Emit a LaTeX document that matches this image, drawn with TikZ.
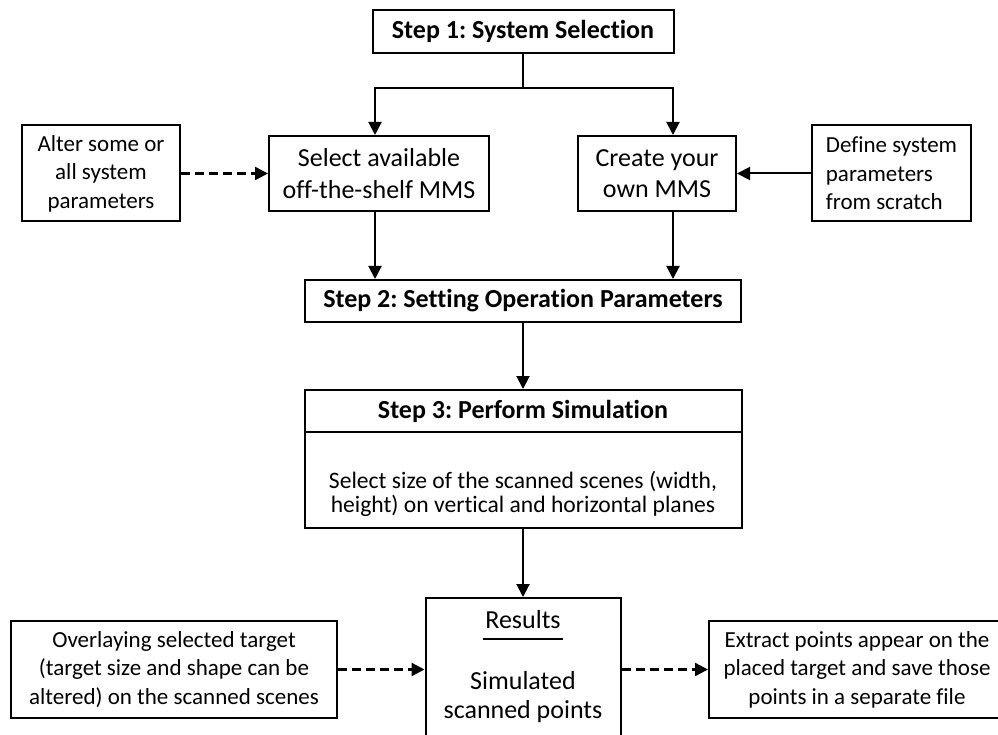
\documentclass[tikz,border=0pt]{standalone}
\usepackage{fontspec}
\setmainfont{Carlito}[Ligatures=NoCommon]
\usetikzlibrary{arrows.meta,positioning,calc}

\tikzset{
  box/.style={draw, line width=2pt, align=center, inner sep=0pt,
    font=\fontsize{26}{31.5}\selectfont},
  sidebox/.style={box, font=\fontsize{23}{28.5}\selectfont},
  stepbox/.style={box, font=\fontsize{26}{31.5}\selectfont\bfseries},
  optional/.style={line width=2.4pt, dash pattern=on 9pt off 5pt},
}

\begin{document}
\frenchspacing
\begin{tikzpicture}[x=1pt,y=1pt,>={Triangle[length=13pt,width=13pt]},line width=2pt]
    \useasboundingbox (0,0) rectangle (998,-735);

    \node[stepbox, minimum width=301, minimum height=43] (step1) at (523,-31.5) {Step 1: System Selection};
    \node[box, minimum width=220, minimum height=75]     (select) at (379,-173.5) {Select available\\off-the-shelf MMS};
    \node[box, minimum width=158, minimum height=75]     (create) at (657,-173.5) {Create your\\own MMS};
    \node[sidebox, minimum width=158, minimum height=96, node distance=278pt] (alter) [left of=select] {Alter some or\\all system\\parameters};
    \node[sidebox, align=left, minimum width=159, minimum height=96, node distance=234.5pt] (define) [right of=create] {Define system\\parameters\\from scratch};

    \node[stepbox, minimum width=436, minimum height=42, node distance=269.5pt] (step2) [below of=step1] {Step 2: Setting Operation Parameters};
    \node[stepbox, minimum width=437, minimum height=42, node distance=110pt] (s3head) [below of=step2] {Step 3: Perform Simulation};
    \node[box, minimum width=437, minimum height=96, node distance=69pt] (s3body) [below of=s3head] {};
    \node[align=center, font=\fontsize{23.6}{23.5}\selectfont] (s3text) at ($(s3body.center)+(0,-14)$) {Select size of the scanned scenes (width,\\height) on vertical and horizontal planes};

    \node[box, minimum width=195, minimum height=152, node distance=194pt] (res) [below of=s3body] {};
    \node[inner sep=0pt, font=\fontsize{26}{31.5}\selectfont] (restitle) at (523,-620) {Results};
    \node[align=center, font=\fontsize{26}{29}\selectfont] (restext) at (523,-697.5) {Simulated\\scanned points};
    \draw[line width=1.4pt] ($(restitle.south west)+(-1,-9)$) -- ($(restitle.south east)+(1,-9)$);

    \node[sidebox, minimum width=326, minimum height=97] (overlay) at (174,-669.5) {Overlaying selected target\\(target size and shape can be\\altered) on the scanned scenes};
    \node[sidebox, minimum width=296, minimum height=97] (extract) at (857,-669.5) {Extract points appear on the\\placed target and save those\\points in a separate file};

    \coordinate (jl) at (375,-88);
    \coordinate (jr) at (673,-88);
    \draw[->] (step1.south) |- (jl) -- (jl |- select.north);
    \draw[->] (step1.south) |- (jr) -- (jr |- create.north);
    \draw[->] (select.south -| jl) -- (jl |- step2.north);
    \draw[->] (create.south -| jr) -- (jr |- step2.north);

    \path[->]
    (alter)  edge [optional] (select)
    (define) edge            (create)
    (step2)  edge            (s3head)
    (s3body) edge            (res)
    ;
    \draw[->, optional] (overlay.east) -- (overlay.east -| res.west);
    \draw[->, optional] (res.east |- extract.west) -- (extract.west);
\end{tikzpicture}
\end{document}
